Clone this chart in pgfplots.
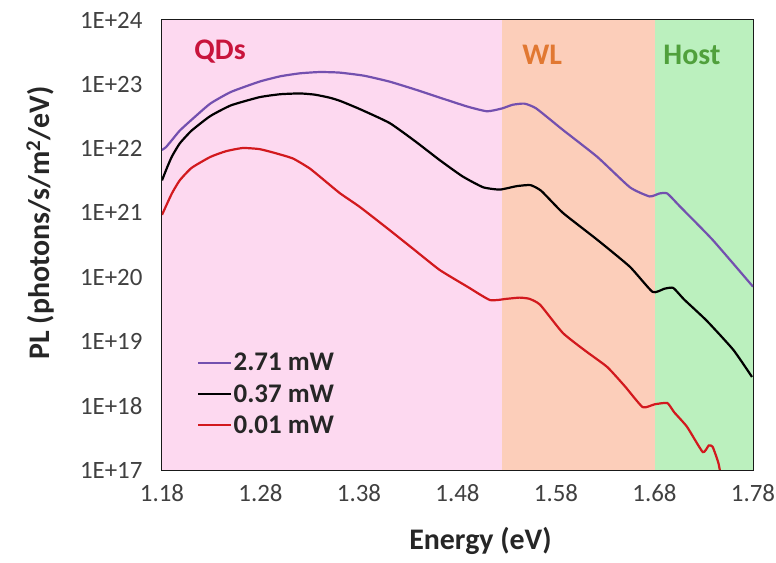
\documentclass[border=0pt]{standalone}
\usepackage{fontspec}
\setmainfont{Carlito}
\usepackage{pgfplots}
\pgfplotsset{compat=1.18}
\definecolor{qdbg}{RGB}{253,217,240}
\definecolor{wlbg}{RGB}{252,206,186}
\definecolor{hostbg}{RGB}{187,240,190}
\definecolor{qdtxt}{RGB}{200,20,60}
\definecolor{wltxt}{RGB}{225,120,50}
\definecolor{hosttxt}{RGB}{80,160,60}
\definecolor{lpurple}{RGB}{115,80,175}
\definecolor{lred}{RGB}{210,25,30}
\definecolor{tickgray}{RGB}{64,64,64}
\definecolor{titlegray}{RGB}{38,38,38}
\begin{document}
\begin{tikzpicture}
\path[use as bounding box] (-162bp,-93bp) rectangle (614bp,470bp);
\begin{axis}[
  scale only axis,
  width=591bp, height=450bp,
  xmin=1.18, xmax=1.78,
  ymode=log, ymin=1e17, ymax=1e24,
  xtick={1.18,1.28,1.38,1.48,1.58,1.68,1.78},
  extra x ticks={1.23,1.33,1.43,1.53,1.63,1.73},
  extra x tick labels={},
  ytick={1e17,1e18,1e19,1e20,1e21,1e22,1e23,1e24},
  yticklabels={1E+17,1E+18,1E+19,1E+20,1E+21,1E+22,1E+23,1E+24},
  xticklabels={1.18,1.28,1.38,1.48,1.58,1.68,1.78},
  tick align=inside,
  xtick pos=bottom, ytick pos=left,
  major tick length=7bp, minor tick length=5bp,
  tick style={black, line width=1.3bp},
  axis line style={line width=1.6bp, black!90},
  /pgf/number format/assume math mode=true,
  ticklabel style={font=\fontsize{25}{29}\selectfont, text=tickgray},
  yticklabel style={anchor=east, xshift=-16bp},
  xticklabel style={anchor=north, yshift=-11bp},
  xlabel={Energy (eV)},
  ylabel={PL (photons/s/m\textsuperscript{2}/eV)},
  label style={font=\bfseries\fontsize{30}{34}\selectfont, text=titlegray},
  xlabel style={at={(rel axis cs:0.5,0)}, anchor=base, yshift=-80bp, xshift=23bp},
  ylabel style={at={([xshift=-122bp,yshift=22bp]rel axis cs:0,0.5)}, anchor=center},
  legend style={draw=none, fill=none, at={(rel axis cs:0.059,0.262)}, anchor=north west,
    font=\bfseries\fontsize{27}{30}\selectfont, text=titlegray, row sep=10bp,
    inner sep=0pt, nodes={inner xsep=1bp, inner ysep=1bp}},
  legend cell align=left,
  legend image code/.code={\draw[#1, line width=2.6bp] (0bp,0bp) -- (33bp,0bp);},
  clip=true,
]
\addplot[fill=qdbg, draw=none, forget plot] coordinates {(1.18,1e17) (1.18,1e24) (1.525,1e24) (1.525,1e17)} -- cycle;
\addplot[fill=wlbg, draw=none, forget plot] coordinates {(1.525,1e17) (1.525,1e24) (1.68,1e24) (1.68,1e17)} -- cycle;
\addplot[fill=hostbg, draw=none, forget plot] coordinates {(1.68,1e17) (1.68,1e24) (1.78,1e24) (1.78,1e17)} -- cycle;

\addplot[lpurple, line width=2.2bp, smooth, tension=0.3] coordinates {
(1.180,9.5e21) (1.184,1.05e22) (1.190,1.35e22) (1.198,1.9e22) (1.210,2.8e22) (1.229,5.0e22)
(1.250,7.6e22) (1.279,1.1e23) (1.300,1.33e23) (1.320,1.48e23) (1.340,1.55e23)
(1.360,1.52e23) (1.385,1.36e23) (1.411,1.1e23) (1.437,8.3e22) (1.462,6.2e22)
(1.490,4.5e22) (1.510,3.8e22) (1.525,4.2e22) (1.536,4.8e22) (1.548,5.0e22)
(1.560,4.2e22) (1.587,1.95e22) (1.622,7.4e21) (1.655,2.5e21) (1.675,1.8e21)
(1.685,2.0e21) (1.693,2.0e21) (1.706,1.25e21) (1.739,3.8e20) (1.780,7.1e19)
};
\addlegendentry{2.71 mW}
\addplot[black, line width=2.2bp, smooth, tension=0.3] coordinates {
(1.180,3.2e21) (1.185,5.0e21) (1.190,7.5e21) (1.198,1.2e22) (1.210,1.9e22) (1.229,3.2e22)
(1.250,4.7e22) (1.279,6.3e22) (1.300,7.0e22) (1.320,7.2e22) (1.335,6.9e22)
(1.350,6.2e22) (1.361,5.5e22) (1.381,4.1e22) (1.411,2.5e22) (1.437,1.3e22) (1.462,6.6e21)
(1.485,3.7e21) (1.506,2.5e21) (1.523,2.3e21) (1.540,2.6e21) (1.554,2.7e21)
(1.565,2.2e21) (1.587,1.0e21) (1.622,3.8e20) (1.655,1.45e20) (1.678,5.9e19)
(1.690,6.6e19) (1.699,6.8e19) (1.710,4.5e19) (1.733,2.1e19) (1.760,7.4e18)
(1.779,2.8e18)
};
\addlegendentry{0.37 mW}
\addplot[lred, line width=2.2bp, smooth, tension=0.3] coordinates {
(1.180,9.3e20) (1.190,2.0e21) (1.198,3.2e21) (1.210,5.0e21) (1.229,7.4e21)
(1.245,9.1e21) (1.262,1.02e22) (1.279,9.8e21) (1.295,8.5e21) (1.313,7.0e21)
(1.330,4.9e21) (1.347,3.0e21) (1.361,2.0e21) (1.381,1.23e21) (1.411,5.4e20)
(1.437,2.6e20) (1.462,1.29e20) (1.490,7.1e19) (1.513,4.4e19) (1.530,4.6e19)
(1.543,4.8e19) (1.553,4.6e19) (1.564,3.7e19) (1.587,1.35e19) (1.610,7.1e18)
(1.632,4.0e18) (1.650,2.0e18) (1.668,9.5e17) (1.680,1.05e18) (1.693,1.1e18)
(1.700,7.9e17) (1.713,4.7e17) (1.729,1.9e17) (1.735,2.4e17) (1.739,2.3e17)
(1.745,1.26e17) (1.750,5e16)
};
\addlegendentry{0.01 mW}

\node[font=\bfseries\fontsize{30}{34}\selectfont, text=qdtxt] at (axis cs:1.239,3.2e23) {QDs};
\node[font=\bfseries\fontsize{30}{34}\selectfont, text=wltxt] at (axis cs:1.566,2.9e23) {WL};
\node[font=\bfseries\fontsize{30}{34}\selectfont, text=hosttxt] at (axis cs:1.718,2.9e23) {Host};
\end{axis}
\end{tikzpicture}
\end{document}
